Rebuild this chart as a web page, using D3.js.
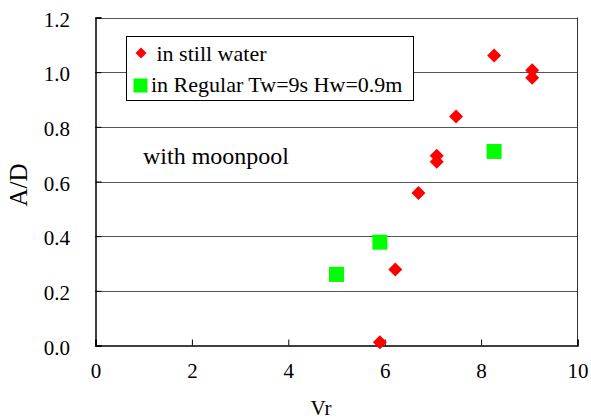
<!DOCTYPE html>
<html><head><meta charset="utf-8">
<script src="https://cdn.jsdelivr.net/npm/d3@7"></script>
<style>body{margin:0;background:#fff} text{font-family:"Liberation Serif",Tinos,"Times New Roman","DejaVu Serif",serif}</style>
</head><body>
<svg id="c" width="591" height="419"></svg>
<script>
const stillX = [8.27, 9.06, 9.06, 7.48, 7.08, 7.08, 6.70, 6.22, 5.90];
const stillY = [1.061, 1.007, 0.980, 0.838, 0.694, 0.672, 0.558, 0.278, 0.012];
const regX = [8.27, 5.90, 5.00];
const regY = [0.710, 0.378, 0.260];
const xTicks = [0, 2, 4, 6, 8, 10];
const yTicks = [0.0, 0.2, 0.4, 0.6, 0.8, 1.0, 1.2];
const legendLabels = ["in still water", "in Regular Tw=9s Hw=0.9m"];
const annotation = "with moonpool";

const svg = d3.select("#c");
const font = '"Liberation Serif", Tinos, "Times New Roman", "DejaVu Serif", serif';
const x = d3.scaleLinear().domain([0, 10]).range([95.5, 577.5]);
const y = d3.scaleLinear().domain([0, 1.2]).range([345.5, 17.5]);

// gridlines
svg.append("g").selectAll("line").data(yTicks.slice(1)).join("line")
  .attr("x1", x(0)).attr("x2", x(10))
  .attr("y1", d => Math.round(y(d)) + 0.5).attr("y2", d => Math.round(y(d)) + 0.5)
  .attr("stroke", "#555").attr("stroke-width", 1);

// right border
svg.append("line").attr("x1", x(10)).attr("x2", x(10)).attr("y1", y(1.2)).attr("y2", y(0))
  .attr("stroke", "#333");

// x axis
const xa = svg.append("g").attr("transform", `translate(0,${y(0)})`)
  .call(d3.axisTop(x).tickValues(xTicks).tickSize(6).tickFormat(d3.format("d")));
xa.attr("font-family", null);
xa.select(".domain").attr("stroke", "#000").attr("stroke-width", 1.5);
xa.selectAll(".tick line").attr("stroke", "#000");
xa.selectAll(".tick text").attr("y", 32).attr("dy", 0)
  .style("font-family", font).style("font-size", "21px").attr("fill", "#000");

// y axis
const ya = svg.append("g").attr("transform", `translate(${x(0)},0)`)
  .call(d3.axisRight(y).tickValues(yTicks).tickSize(6).tickFormat(d3.format(".1f")));
ya.attr("font-family", null);
ya.select(".domain").attr("stroke", "#000").attr("stroke-width", 1.5);
ya.selectAll(".tick line").attr("stroke", "#000");
ya.selectAll(".tick text").attr("x", -25.5).attr("text-anchor", "end").attr("dy", 0).attr("y", 8.5)
  .style("font-family", font).style("font-size", "21px").attr("fill", "#000");

// axis titles
svg.append("text").attr("x", 321).attr("y", 415).attr("text-anchor", "middle")
  .style("font-family", font).style("font-size", "21px").text("Vr");
svg.append("text").attr("transform", "translate(27,185) rotate(-90)").attr("text-anchor", "middle")
  .style("font-family", font).style("font-size", "25px").text("A/D");

// data
const diamond = d3.symbol().type(d3.symbolSquare).size(98);
svg.append("g").selectAll("path").data(stillX.map((v, i) => [v, stillY[i]])).join("path")
  .attr("d", diamond)
  .attr("transform", d => `translate(${x(d[0])},${y(d[1])}) rotate(45)`)
  .attr("fill", "#ff0000");
svg.append("g").selectAll("rect").data(regX.map((v, i) => [v, regY[i]])).join("rect")
  .attr("x", d => x(d[0]) - 7.5).attr("y", d => y(d[1]) - 7.5)
  .attr("width", 15).attr("height", 15).attr("fill", "#00ff00");

// legend
const lg = svg.append("g");
lg.append("rect").attr("x", 126.5).attr("y", 36.5).attr("width", 287).attr("height", 64)
  .attr("fill", "#fff").attr("stroke", "#000");
lg.append("path").attr("d", d3.symbol().type(d3.symbolSquare).size(60))
  .attr("transform", "translate(141,53) rotate(45)").attr("fill", "#ff0000");
lg.append("rect").attr("x", 133.5).attr("y", 78.5).attr("width", 14).attr("height", 14).attr("fill", "#00ff00");
lg.append("text").attr("x", 156.5).attr("y", 60.5).style("font-family", font).style("font-size", "22px").text(legendLabels[0]);
lg.append("text").attr("x", 151).attr("y", 92).style("font-family", font).style("font-size", "22px").text(legendLabels[1]);

// annotation
svg.append("text").attr("x", 143).attr("y", 164).style("font-family", font).style("font-size", "24px").text(annotation);
</script>
</body></html>
